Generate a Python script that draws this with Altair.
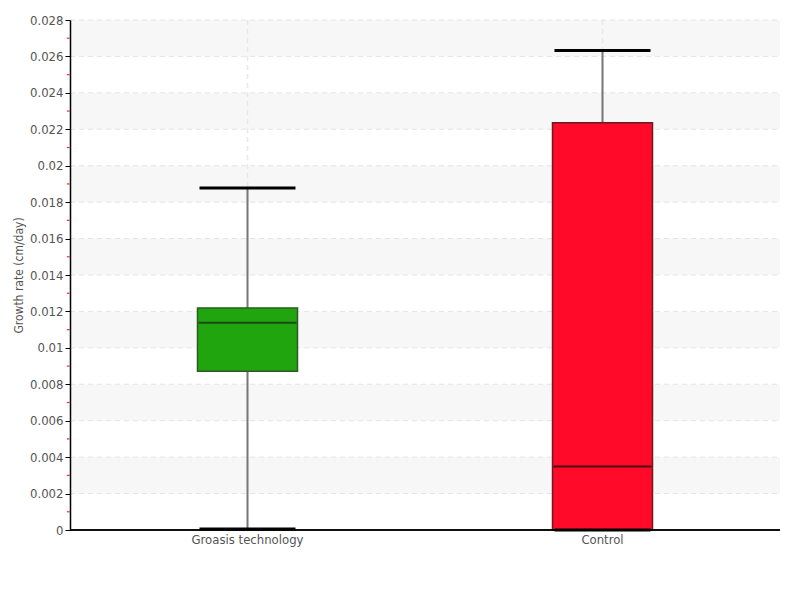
import altair as alt
import pandas as pd

categories = ["Groasis technology", "Control"]
mins = [0.00005, 0.0]
q1s = [0.00871, 0.0]
medians = [0.01138, 0.00348]
q3s = [0.01219, 0.02236]
maxs = [0.01878, 0.02632]
box_colors = ["#21a50f", "#ff0a28"]
box_strokes = ["#2d5a22", "#6b1a22"]
median_colors = ["#1d4a12", "#4a0d12"]

major_ticks = [round(i * 0.002, 3) for i in range(15)]
minor_ticks = [round(0.001 + i * 0.002, 3) for i in range(14)]
band_starts = [0.002, 0.006, 0.010, 0.014, 0.018, 0.022, 0.026]

df = pd.DataFrame({
    "cat": categories, "min": mins, "q1": q1s, "median": medians,
    "q3": q3s, "max": maxs, "color": box_colors, "stroke": box_strokes,
    "mcolor": median_colors,
})
bands = pd.DataFrame({"y": band_starts, "y2": [round(b + 0.002, 3) for b in band_starts]})
grid = pd.DataFrame({"y": major_ticks[1:]})
minor = pd.DataFrame({"y": minor_ticks})

FONT = "DejaVu Sans Condensed, Roboto, sans-serif"

xscale = alt.Scale(domain=categories, paddingInner=0, paddingOuter=0)
yscale = alt.Scale(domain=[0, 0.028], nice=False)

x_enc = alt.X("cat:N", scale=xscale, sort=categories,
              axis=alt.Axis(title=None, labelAngle=0, ticks=False, domain=False,
                            labelFont=FONT, labelFontSize=13, labelColor="#555",
                            labelPadding=3, grid=False))
y_axis = alt.Axis(title="Growth rate (cm/day)", values=major_ticks, format=".3~f",
                  labelFont=FONT, labelFontSize=13, labelColor="#555",
                  labelOverlap=False, labelFlush=False,
                  titleFont=FONT, titleFontSize=12, titleColor="#555", titleFontWeight="normal",
                  domainColor="#000", domainWidth=1.5, tickColor="#000", tickSize=5,
                  grid=False, labelPadding=2, titlePadding=4, zindex=2)


def Y(field):
    return alt.Y(field, scale=yscale, axis=y_axis)


band_layer = alt.Chart(bands).mark_rect(color="#f7f7f7").encode(
    y=Y("y:Q"), y2="y2:Q",
    x=alt.value(0), x2=alt.value(710),
)

hgrid = alt.Chart(grid).mark_rule(color="#e4e4e4", strokeDash=[5, 4], strokeWidth=1).encode(
    y=Y("y:Q"),
    x=alt.value(0), x2=alt.value(710),
)

vgrid = alt.Chart(df).mark_rule(color="#e8e8e8", strokeDash=[5, 4], strokeWidth=1.5).encode(
    x=x_enc, y=alt.value(0), y2=alt.value(510),
)

minor_layer = alt.Chart(minor).mark_rule(color="#ff2020", strokeWidth=1.2).encode(
    y=Y("y:Q"),
    x=alt.value(-3), x2=alt.value(-0.5),
)

whisker = alt.Chart(df).mark_rule(color="#777", strokeWidth=2).encode(
    x=x_enc, y=Y("min:Q"), y2="max:Q",
)

box = alt.Chart(df).mark_bar(size=100, strokeWidth=1.5, opacity=1).encode(
    x=x_enc, y=Y("q1:Q"), y2="q3:Q",
    fill=alt.Fill("color:N", scale=None),
    stroke=alt.Stroke("stroke:N", scale=None),
)

median = alt.Chart(df).mark_tick(size=98, thickness=2, opacity=1).encode(
    x=x_enc, y=Y("median:Q"),
    color=alt.Color("mcolor:N", scale=None),
)

cap_max = alt.Chart(df).mark_tick(size=96, thickness=3, color="#000", opacity=1).encode(
    x=x_enc, y=Y("max:Q"),
)
cap_min = alt.Chart(df).mark_tick(size=96, thickness=3, color="#000", opacity=1).encode(
    x=x_enc, y=Y("min:Q"),
)

xaxis_line = alt.Chart(df).mark_rule(color="#000", strokeWidth=1.5).encode(
    x=alt.value(0), x2=alt.value(710), y=alt.value(510),
)

chart = alt.layer(
    band_layer, hgrid, vgrid, minor_layer, whisker, box, median, cap_max, cap_min, xaxis_line
).properties(
    width=710, height=510,
    autosize=alt.AutoSizeParams(type="none"),
    padding={"left": 62, "top": 12, "right": 12, "bottom": 62},
).configure_view(stroke=None)

chart.save("out.html", embed_options={"renderer": "svg", "actions": False})
